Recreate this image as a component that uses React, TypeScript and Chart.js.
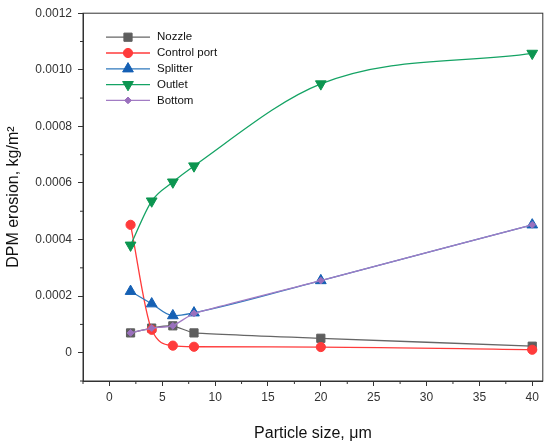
import { useEffect, useRef } from "react"
import { Chart, registerables } from "chart.js"
import { drawPoint } from "chart.js/helpers"

Chart.register(...registerables)

// particle size (µm) and DPM erosion (kg/m²) per surface
const particleSizes = [2, 4, 6, 8, 20, 40]
const nozzle = [7.0e-5, 8.7e-5, 9.5e-5, 7.0e-5, 5.1e-5, 2.3e-5]
const controlPort = [4.52e-4, 8.1e-5, 2.5e-5, 2.1e-5, 2.0e-5, 1.05e-5]
const splitter = [2.17e-4, 1.73e-4, 1.31e-4, 1.41e-4, 2.55e-4, 4.52e-4]
const outlet = [3.8e-4, 5.36e-4, 6.03e-4, 6.6e-4, 9.5e-4, 1.058e-3]
const bottom = [7.0e-5, 8.7e-5, 9.5e-5, 1.39e-4, 2.55e-4, 4.52e-4]

const seriesLabels = ["Nozzle", "Control port", "Splitter", "Outlet", "Bottom"]

const xTicks = [0, 5, 10, 15, 20, 25, 30, 35, 40]
const xMinorTicks = [-2.5, 2.5, 7.5, 12.5, 17.5, 22.5, 27.5, 32.5, 37.5]
const yTicks = [0, 0.0002, 0.0004, 0.0006, 0.0008, 0.001, 0.0012]
const yMinorTicks = [-0.0001, 0.0001, 0.0003, 0.0005, 0.0007, 0.0009, 0.0011]

const FONT = "Arial, 'Liberation Sans', sans-serif"
const AXIS = "#333"

const styles = [
  { line: "#666666", fill: "#5e5e5e", point: "rect", radius: 5.8, rotation: 0, mode: "default", tension: 0.15 },
  { line: "#ff3b3b", fill: "#ff3b3b", point: "circle", radius: 4.6, rotation: 0, mode: "monotone", tension: 0 },
  { line: "#2f78bd", fill: "#1560b4", point: "triangle", radius: 6.2, rotation: 0, mode: "monotone", tension: 0 },
  { line: "#14a364", fill: "#0c9550", point: "triangle", radius: 6.2, rotation: 180, mode: "monotone", tension: 0 },
  { line: "#a27cc4", fill: "#9a70bd", point: "rectRot", radius: 3.4, rotation: 0, mode: "default", tension: 0.15 },
]

const seriesValues = [nozzle, controlPort, splitter, outlet, bottom]

const toPoints = (ys: number[]) => particleSizes.map((x, i) => ({ x, y: ys[i] }))

const framePlugin = {
  id: "frame",
  afterDraw(chart: any) {
    const { ctx, chartArea: a, scales } = chart
    ctx.save()
    ctx.strokeStyle = AXIS
    ctx.lineWidth = 1
    ctx.strokeRect(a.left, a.top, a.right - a.left, a.bottom - a.top)
    // minor ticks
    ctx.beginPath()
    xMinorTicks.forEach((v) => {
      const px = scales.x.getPixelForValue(v)
      ctx.moveTo(px, a.bottom)
      ctx.lineTo(px, a.bottom + 3)
    })
    yMinorTicks.forEach((v) => {
      const py = scales.y.getPixelForValue(v)
      ctx.moveTo(a.left, py)
      ctx.lineTo(a.left - 3, py)
    })
    ctx.stroke()
    ctx.restore()
  },
}

const legendPlugin = {
  id: "insideLegend",
  afterDraw(chart: any) {
    const { ctx, chartArea: a } = chart
    const x0 = a.left + 23
    const y0 = a.top + 24
    ctx.save()
    chart.data.datasets.forEach((ds: any, i: number) => {
      const y = y0 + i * 15.8
      const s = styles[i]
      ctx.strokeStyle = s.line
      ctx.lineWidth = 1.3
      ctx.beginPath()
      ctx.moveTo(x0, y)
      ctx.lineTo(x0 + 44, y)
      ctx.stroke()
      ctx.fillStyle = s.fill
      ctx.strokeStyle = s.fill
      ctx.lineWidth = 1
      drawPoint(ctx, { pointStyle: s.point, radius: s.radius, rotation: s.rotation, borderWidth: 1 }, x0 + 22, y)
      ctx.fillStyle = "#111"
      ctx.font = `11.5px ${FONT}`
      ctx.textBaseline = "middle"
      ctx.textAlign = "left"
      ctx.fillText(ds.label, x0 + 51, y)
    })
    ctx.restore()
  },
}

export default function App() {
  const chartRef = useRef<HTMLCanvasElement>(null)
  const chartInstance = useRef<Chart | null>(null)

  useEffect(() => {
    if (!chartRef.current) return
    if (chartInstance.current) chartInstance.current.destroy()
    const ctx = chartRef.current.getContext("2d")
    if (!ctx) return

    const n = seriesLabels.length
    chartInstance.current = new Chart(ctx, {
      type: "line",
      data: {
        datasets: seriesLabels.map((label, i) => ({
          label,
          data: toPoints(seriesValues[i]),
          borderColor: styles[i].line,
          borderWidth: 1.3,
          backgroundColor: styles[i].fill,
          pointBackgroundColor: styles[i].fill,
          pointBorderColor: styles[i].fill,
          pointBorderWidth: 1,
          pointStyle: styles[i].point as any,
          pointRadius: styles[i].radius,
          pointRotation: styles[i].rotation,
          cubicInterpolationMode: styles[i].mode as any,
          tension: styles[i].tension,
          order: n - i,
          clip: false as any,
        })),
      },
      options: {
        animation: false,
        responsive: true,
        maintainAspectRatio: false,
        layout: { padding: { top: 11, right: 7, left: 0, bottom: 0 } },
        plugins: {
          legend: { display: false },
          tooltip: { enabled: false },
        },
        scales: {
          x: {
            type: "linear",
            min: -2.5,
            max: 41,
            afterBuildTicks: (s: any) => {
              s.ticks = xTicks.map((value) => ({ value }))
            },
            afterFit: (s: any) => {
              s.height = 63
            },
            grid: { drawOnChartArea: false, drawTicks: true, tickLength: 5, tickColor: AXIS },
            border: { color: AXIS, width: 1 },
            ticks: {
              color: "#333",
              font: { size: 12, family: FONT },
              padding: 4,
              maxRotation: 0,
              autoSkip: false,
            },
            title: {
              display: true,
              text: "Particle size, μm",
              color: "#111",
              font: { size: 16, family: FONT },
              padding: { top: 0, bottom: 1 },
            },
          },
          y: {
            type: "linear",
            min: -0.0001,
            max: 0.0012,
            afterBuildTicks: (s: any) => {
              s.ticks = yTicks.map((value) => ({ value }))
            },
            afterFit: (s: any) => {
              s.width = 83
            },
            grid: { drawOnChartArea: false, drawTicks: true, tickLength: 5, tickColor: AXIS },
            border: { color: AXIS, width: 1 },
            ticks: {
              color: "#333",
              font: { size: 12, family: FONT },
              padding: 6,
              callback: (v: any) => (Number(v) === 0 ? "0" : Number(v).toFixed(4)),
            },
            title: {
              display: true,
              text: "DPM erosion, kg/m²",
              color: "#111",
              font: { size: 16, family: FONT },
              padding: { top: 4, bottom: 0 },
            },
          },
        },
      },
      plugins: [framePlugin, legendPlugin],
    })

    return () => {
      if (chartInstance.current) {
        chartInstance.current.destroy()
        chartInstance.current = null
      }
    }
  }, [])

  return (
    <div style={{ position: "fixed", left: 0, top: 0, width: 550, height: 444, background: "#fff" }}>
      <canvas ref={chartRef} />
    </div>
  )
}
